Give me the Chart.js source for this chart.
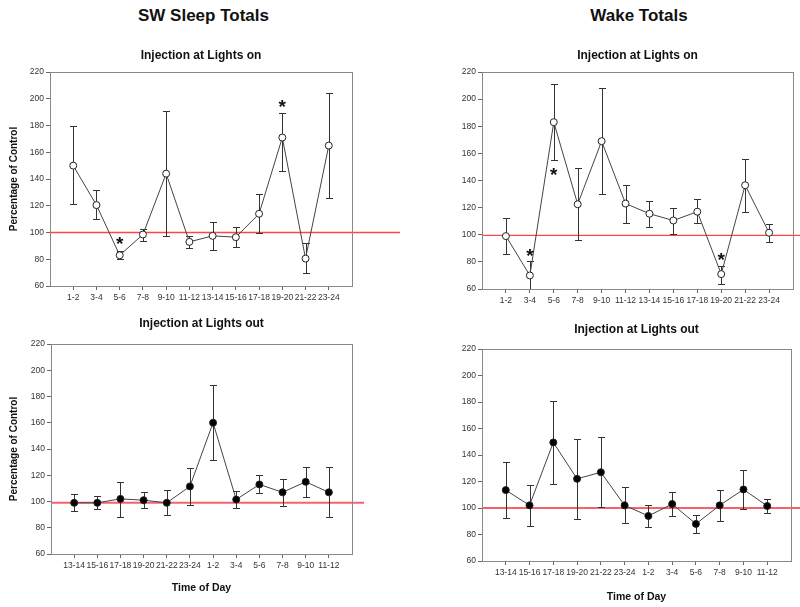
<!DOCTYPE html>
<html>
<head>
<meta charset="utf-8">
<script src="https://cdn.jsdelivr.net/npm/chart.js@4"></script>
<style>
  body { margin: 0; background: #fff; width: 800px; height: 607px; overflow: hidden; position: relative; font-family: 'Liberation Sans', Arial, sans-serif; }
  .head { position: absolute; top: 6px; font-size: 17px; font-weight: bold; line-height: 20px; text-align: center; color: #111; }
  canvas { position: absolute; }
</style>
</head>
<body>
<div class="head" style="left:0;width:407px">SW Sleep Totals</div>
<div class="head" style="left:400px;width:478px">Wake Totals</div>
<canvas id="swOn"></canvas>
<canvas id="wakeOn"></canvas>
<canvas id="swOut"></canvas>
<canvas id="wakeOut"></canvas>
<script>
const catsOn = ['1-2', '3-4', '5-6', '7-8', '9-10', '11-12', '13-14', '15-16', '17-18', '19-20', '21-22', '23-24'];
const catsOut = ['13-14', '15-16', '17-18', '19-20', '21-22', '23-24', '1-2', '3-4', '5-6', '7-8', '9-10', '11-12'];
const yTicks = [60, 80, 100, 120, 140, 160, 180, 200, 220];

// SW sleep, injection at lights on
const swOnMean = [150, 120.5, 83, 98.5, 144, 93, 97.5, 96.5, 114, 171, 80.5, 165];
const swOnHigh = [179.5, 131.5, 86, 102.5, 190.5, 97.5, 108, 104, 129, 189.5, 92, 204];
const swOnLow = [121, 110, 80, 94, 97.5, 88.5, 87, 89, 99.5, 146, 69.5, 126];
const swOnStarIdx = [2, 9];
const swOnStarY = [95.5, 197.5];

// Wake, injection at lights on
const wakeOnMean = [99, 70, 183, 122.5, 169, 123, 115.5, 110.5, 117, 71, 136.5, 101.5];
const wakeOnHigh = [112.5, 80.5, 211.5, 149, 208.5, 136.5, 125, 120, 126, 77, 155.5, 108];
const wakeOnLow = [85.5, 58, 155, 96, 130, 108.5, 106, 100.5, 108.5, 64, 117, 94.5];
const wakeOnStarIdx = [1, 2, 9];
const wakeOnStarY = [88, 147.5, 85];

// SW sleep, injection at lights out
const swOutMean = [99, 99, 102, 101, 99, 111.5, 160, 101.5, 113, 107, 115, 107];
const swOutHigh = [106, 104.5, 115, 107.5, 109, 125.5, 189, 108, 120, 117.5, 126, 126];
const swOutLow = [93, 94, 88.5, 95, 89.5, 97, 131.5, 95, 106.5, 96.5, 103.5, 88];

// Wake, injection at lights out
const wakeOutMean = [113.5, 102, 149.5, 122, 127, 102, 94, 103, 88, 102, 114, 101.5];
const wakeOutHigh = [135, 117, 181, 152, 153.5, 115.5, 102, 112, 94.5, 113.5, 129, 106.5];
const wakeOutLow = [92.5, 86.5, 118, 92, 100.5, 88.5, 86, 94, 81, 90, 99.5, 96];

Chart.defaults.font.family = "'Liberation Sans', Arial, sans-serif";
Chart.defaults.color = '#333';

// reference line, error bars, asterisks and the frame round the plot
function extras(p) {
  return {
    id: 'extras',
    beforeDatasetsDraw(chart) {
      const { ctx, chartArea: a, scales: { x, y } } = chart;
      const ry = y.getPixelForValue(p.ref);
      ctx.save();
      ctx.strokeStyle = p.refColor;
      ctx.lineWidth = p.refWidth;
      ctx.beginPath();
      ctx.moveTo(a.left, ry);
      ctx.lineTo(chart.width, ry);
      ctx.stroke();
      ctx.restore();

      ctx.save();
      ctx.beginPath();
      ctx.rect(a.left, a.top, a.right - a.left, a.bottom - a.top);
      ctx.clip();
      ctx.strokeStyle = '#333';
      ctx.lineWidth = 1;
      p.high.forEach((h, i) => {
        const px = Math.round(x.getPixelForValue(i + 1)) + 0.5;
        const pt = Math.round(y.getPixelForValue(h)) + 0.5;
        const pb = Math.round(y.getPixelForValue(p.low[i])) + 0.5;
        ctx.beginPath();
        ctx.moveTo(px, pt); ctx.lineTo(px, pb);
        ctx.moveTo(px - 3.5, pt); ctx.lineTo(px + 3.5, pt);
        ctx.moveTo(px - 3.5, pb); ctx.lineTo(px + 3.5, pb);
        ctx.stroke();
      });
      ctx.restore();
    },
    afterDraw(chart) {
      const { ctx, chartArea: a, scales: { x, y } } = chart;
      ctx.save();
      ctx.strokeStyle = '#888';
      ctx.lineWidth = 1;
      ctx.strokeRect(Math.round(a.left) + 0.5, Math.round(a.top) + 0.5,
        Math.round(a.right - a.left), Math.round(a.bottom - a.top));
      ctx.fillStyle = '#111';
      ctx.font = "bold 19px 'Liberation Sans', Arial, sans-serif";
      ctx.textAlign = 'center';
      ctx.textBaseline = 'alphabetic';
      (p.starIdx || []).forEach((idx, k) => {
        ctx.fillText('*', x.getPixelForValue(idx + 1), y.getPixelForValue(p.starY[k]) + 11);
      });
      ctx.restore();
    }
  };
}

function makePanel(p) {
  const cv = document.getElementById(p.id);
  cv.width = p.w;
  cv.height = p.h;
  cv.style.left = p.left + 'px';
  cv.style.top = p.top + 'px';
  return new Chart(cv, {
    type: 'line',
    data: {
      datasets: [{
        data: p.mean.map((v, i) => ({ x: i + 1, y: v })),
        borderColor: '#444',
        borderWidth: 1,
        tension: 0,
        pointRadius: 3.5,
        pointHoverRadius: 3.5,
        pointBorderWidth: 1,
        pointBorderColor: '#222',
        pointBackgroundColor: p.filled ? '#000' : '#fff'
      }]
    },
    options: {
      responsive: false,
      animation: false,
      layout: { padding: { top: 0, left: 0, right: p.padRight, bottom: 0 } },
      plugins: {
        legend: { display: false },
        tooltip: { enabled: false },
        title: {
          display: true,
          text: p.title,
          fullSize: false,
          color: '#111',
          font: { size: 12, weight: 'bold' },
          padding: { top: p.titleTop, bottom: p.titleBottom }
        }
      },
      scales: {
        x: {
          type: 'linear',
          min: 0,
          max: 13,
          afterBuildTicks: s => { s.ticks = p.cats.map((c, i) => ({ value: i + 1 })); },
          afterFit: s => { s.height = p.xHeight; },
          ticks: {
            autoSkip: false,
            maxRotation: 0,
            padding: 3,
            color: '#333',
            font: { size: 8.5 },
            callback: v => p.cats[v - 1]
          },
          grid: { drawOnChartArea: false, tickLength: 4, color: '#666' },
          border: { color: '#888' },
          title: {
            display: !!p.xTitle,
            text: p.xTitle,
            color: '#111',
            font: { size: 10.5, weight: 'bold' },
            padding: { top: 0, bottom: p.xTitlePad }
          }
        },
        y: {
          min: 60,
          max: 220,
          afterBuildTicks: s => { s.ticks = yTicks.map(v => ({ value: v })); },
          afterFit: s => { s.width = 50; },
          ticks: { padding: 2, color: '#333', font: { size: 8.5 } },
          grid: { drawOnChartArea: false, tickLength: 4, color: '#666' },
          border: { color: '#888' },
          title: {
            display: !!p.yTitle,
            text: p.yTitle,
            color: '#111',
            font: { size: 10, weight: 'bold' },
            padding: { top: p.yTitlePad, bottom: 0 }
          }
        }
      }
    },
    plugins: [extras(p)]
  });
}

makePanel({
  id: 'swOn', left: 0, top: 40, w: 400, h: 266, padRight: 48,
  title: 'Injection at Lights on', titleTop: 8.8, titleBottom: 8.8,
  cats: catsOn, mean: swOnMean, high: swOnHigh, low: swOnLow,
  starIdx: swOnStarIdx, starY: swOnStarY,
  ref: 100, refColor: 'rgb(255, 70, 70)', refWidth: 1.3,
  xHeight: 20, yTitle: 'Percentage of Control', yTitlePad: 8, filled: false
});

makePanel({
  id: 'wakeOn', left: 432, top: 40, w: 368, h: 269, padRight: 7,
  title: 'Injection at Lights on', titleTop: 8.8, titleBottom: 8.8,
  cats: catsOn, mean: wakeOnMean, high: wakeOnHigh, low: wakeOnLow,
  starIdx: wakeOnStarIdx, starY: wakeOnStarY,
  ref: 99.5, refColor: 'rgb(255, 70, 70)', refWidth: 1.3,
  xHeight: 20, filled: false
});

makePanel({
  id: 'swOut', left: 1, top: 310, w: 363, h: 288, padRight: 12,
  title: 'Injection at Lights out', titleTop: 6.8, titleBottom: 12.8,
  cats: catsOut, mean: swOutMean, high: swOutHigh, low: swOutLow,
  ref: 99, refColor: 'rgba(245, 70, 80, 0.85)', refWidth: 2,
  xHeight: 44, xTitle: 'Time of Day', xTitlePad: 3.7,
  yTitle: 'Percentage of Control', yTitlePad: 7, filled: true
});

makePanel({
  id: 'wakeOut', left: 432, top: 315, w: 368, h: 290, padRight: 9,
  title: 'Injection at Lights out', titleTop: 7.8, titleBottom: 11.8,
  cats: catsOut, mean: wakeOutMean, high: wakeOutHigh, low: wakeOutLow,
  ref: 100, refColor: 'rgba(245, 70, 80, 0.85)', refWidth: 2,
  xHeight: 44, xTitle: 'Time of Day', xTitlePad: 1.7, filled: true
});
</script>
</body>
</html>
